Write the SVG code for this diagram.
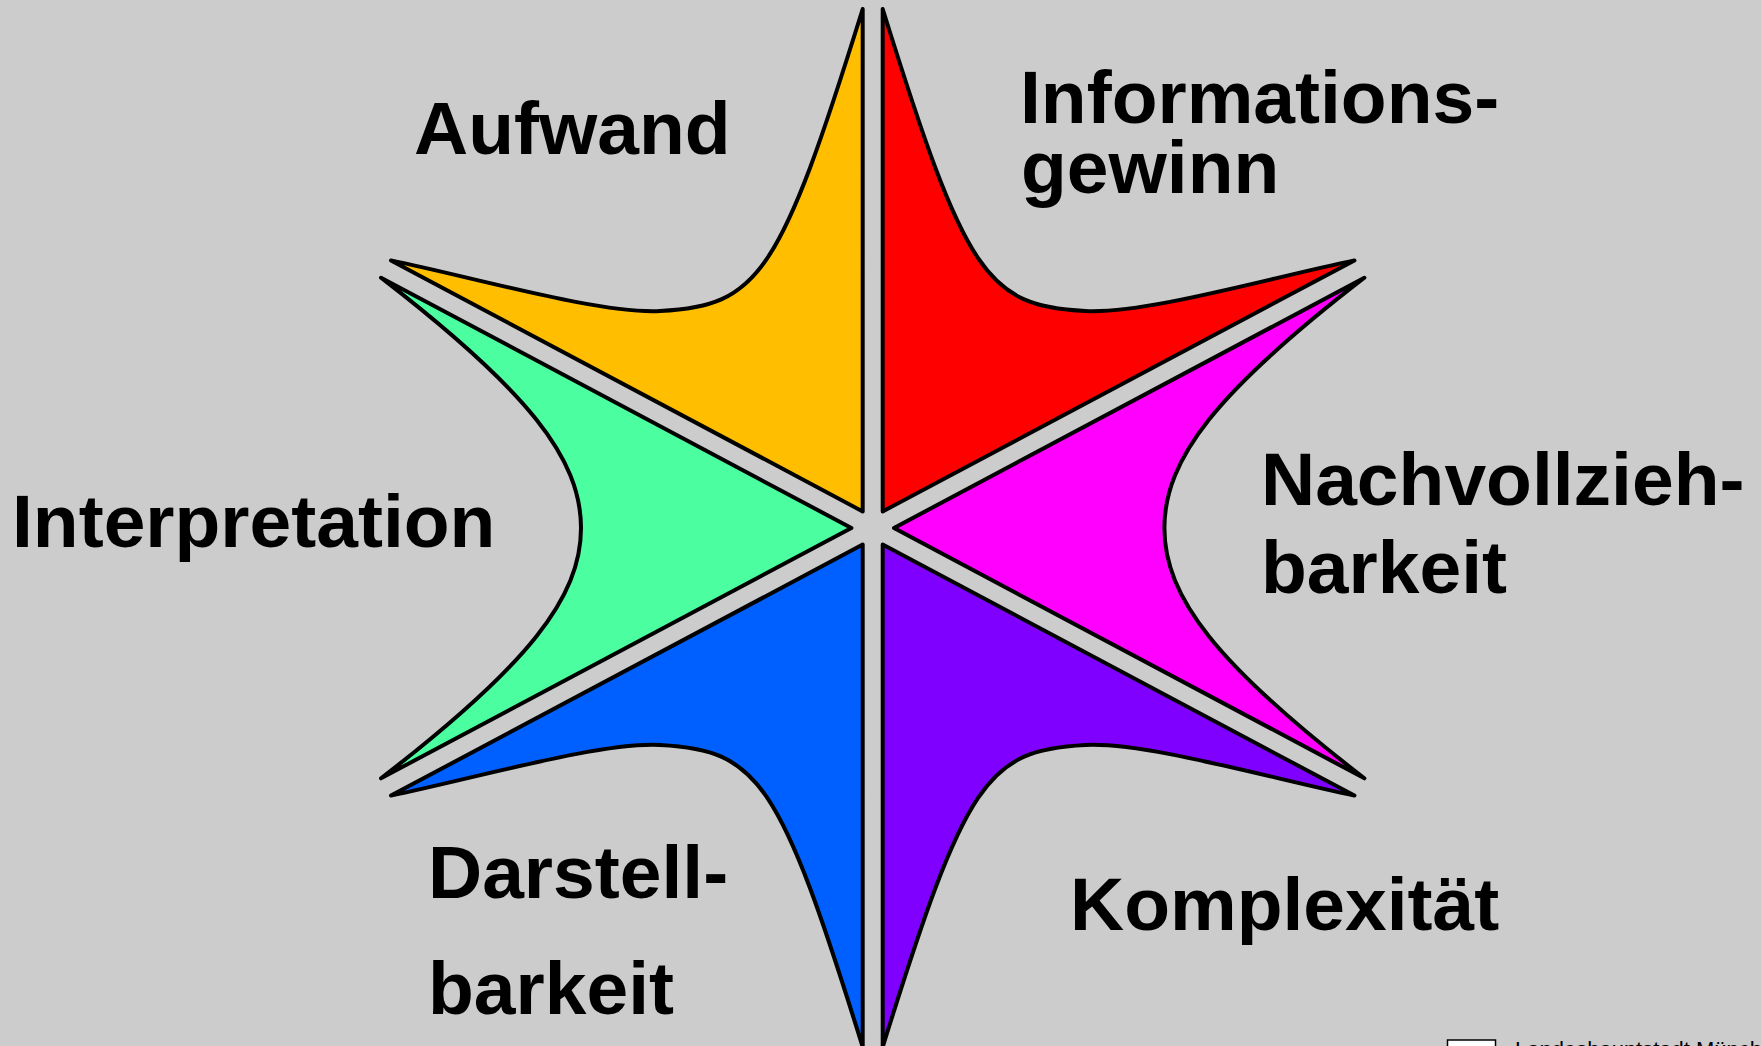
<svg xmlns="http://www.w3.org/2000/svg" width="1761" height="1046" viewBox="0 0 1761 1046">
<style>
.bg{fill:#cccccc}
.petal{stroke:#000;stroke-width:4;stroke-linejoin:round}
.lbl{font-family:"Liberation Sans",Arial,sans-serif;font-weight:bold;font-size:75px;fill:#000}
.small{font-family:"Liberation Sans",Arial,sans-serif;font-size:22px;fill:#000}
</style>
<rect class="bg" x="0" y="0" width="1761" height="1046"/>
<g id="star">
<g id="aufwand-sector"><path class="petal" fill="#ffbf00" d="M862.7,9 L862.7,511.4 L391,260.4 C480,279 600,314 660,311 C759,306 780,275 862.7,9 Z"/></g>
<g id="informationsgewinn-sector"><path class="petal" fill="#ff0000" d="M882.7,9 L882.7,511.4 L1354.4,260.4 C1265.4,279 1145.4,314 1085.4,311 C986.4,306 965.4,275 882.7,9 Z"/></g>
<g id="interpretation-sector"><path class="petal" fill="#4bffa0" d="M381,277.7 L851.4,528 L381,778.3 C528,665 581,597.3 581,528 C581,458.7 528,391 381,277.7 Z"/></g>
<g id="nachvollziehbarkeit-sector"><path class="petal" fill="#ff00ff" d="M1364.4,277.7 L894,528 L1364.4,778.3 C1217.4,665 1164.4,597.3 1164.4,528 C1164.4,458.7 1217.4,391 1364.4,277.7 Z"/></g>
<g id="darstellbarkeit-sector"><path class="petal" fill="#0060ff" d="M862.7,1047 L862.7,544.6 L391,795.6 C480,777 600,742 660,745 C759,750 780,781 862.7,1047 Z"/></g>
<g id="komplexitaet-sector"><path class="petal" fill="#8000ff" d="M882.7,1047 L882.7,544.6 L1354.4,795.6 C1265.4,777 1145.4,742 1085.4,745 C986.4,750 965.4,781 882.7,1047 Z"/></g>
</g>
<g id="labels">
<text class="lbl" x="414" y="154">Aufwand</text>
<text class="lbl" x="1020" y="123">Informations-</text>
<text class="lbl" x="1021" y="193">gewinn</text>
<text class="lbl" x="12" y="547">Interpretation</text>
<text class="lbl" x="1261" y="505">Nachvollzieh-</text>
<text class="lbl" x="1261" y="593">barkeit</text>
<text class="lbl" x="428" y="898">Darstell-</text>
<text class="lbl" x="428" y="1014">barkeit</text>
<text class="lbl" x="1070" y="930">Komplexität</text>
</g>
<g id="footer">
<rect x="1447.5" y="1040" width="48" height="30" fill="#ffffff" stroke="#000" stroke-width="1.5"/>
<text class="small" x="1515" y="1056.5">Landeshauptstadt München</text>
</g>
</svg>
